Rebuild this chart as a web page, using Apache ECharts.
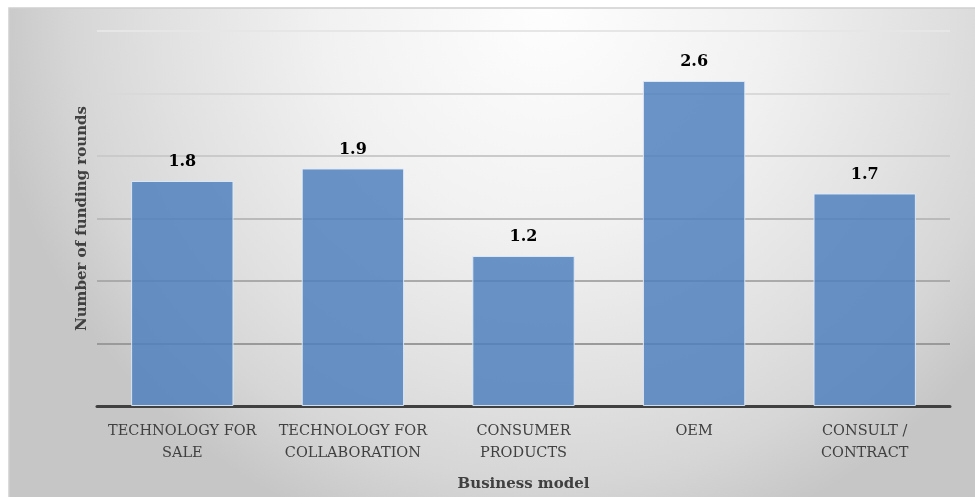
<!DOCTYPE html>
<html>
<head>
<meta charset="utf-8">
<script src="https://cdn.jsdelivr.net/npm/echarts@6/dist/echarts.min.js"></script>
<style>
  html, body { margin: 0; padding: 0; background: #ffffff; }
  #chart { width: 975px; height: 497px; }
</style>
</head>
<body>
<div id="chart"></div>
<script>
// Business models and their average number of funding rounds
const categories = [
  'TECHNOLOGY FOR\nSALE',
  'TECHNOLOGY FOR\nCOLLABORATION',
  'CONSUMER\nPRODUCTS',
  'OEM',
  'CONSULT /\nCONTRACT'
];
const fundingRounds = [1.8, 1.9, 1.2, 2.6, 1.7];

const xAxisTitle = 'Business model';
const yAxisTitle = 'Number of funding rounds';

const serif = '"DejaVu Serif", "Liberation Serif", serif';

// Gridlines fade from darker at the bottom to very light at the top
const gridShades = ['#909090', '#9a9a9a', '#aaaaaa', '#bababa', '#cacaca', '#d9d9d9', '#e6e6e6'];

const chart = echarts.init(document.getElementById('chart'));

chart.setOption({
  animation: false,
  backgroundColor: '#ffffff',
  graphic: [{
    type: 'rect',
    z: -100,
    silent: true,
    shape: { x: 9, y: 8, width: 975, height: 497 },
    style: {
      fill: {
        type: 'radial', x: 0.55, y: 0.0, r: 1.12,
        colorStops: [
          { offset: 0, color: '#fefefe' },
          { offset: 0.4, color: '#f1f1f1' },
          { offset: 0.7, color: '#e0e0e0' },
          { offset: 0.85, color: '#d6d6d6' },
          { offset: 1, color: '#c6c6c6' }
        ]
      },
      stroke: '#d0d0d0',
      lineWidth: 1.5
    }
  }],
  grid: { left: 97, right: 25, top: 31, bottom: 91, containLabel: false },
  xAxis: {
    type: 'category',
    data: categories,
    name: xAxisTitle,
    nameLocation: 'middle',
    nameGap: 71,
    nameTextStyle: { fontFamily: serif, fontSize: 15, fontWeight: 'bold', color: '#404040' },
    axisLine: { show: true, lineStyle: { color: '#404040', width: 3 } },
    axisTick: { show: false },
    axisLabel: {
      fontFamily: serif, fontSize: 14.5, color: '#404040',
      lineHeight: 22, margin: 14, interval: 0
    }
  },
  yAxis: {
    type: 'value',
    min: 0, max: 3, interval: 0.5,
    name: yAxisTitle,
    nameLocation: 'middle',
    nameGap: 7,
    nameTextStyle: { fontFamily: serif, fontSize: 15, fontWeight: 'bold', color: '#404040' },
    axisLine: { show: false },
    axisTick: { show: false },
    axisLabel: { show: false },
    splitLine: { lineStyle: { color: gridShades, width: 2 } }
  },
  series: [{
    type: 'bar',
    data: fundingRounds,
    barWidth: '60%',
    itemStyle: {
      color: 'rgba(79,129,189,0.84)',
      borderColor: 'rgba(225,235,248,0.9)',
      borderWidth: 1
    },
    label: {
      show: true,
      position: 'top',
      distance: 11,
      fontFamily: serif,
      fontSize: 16,
      fontWeight: 'bold',
      color: '#000000',
      formatter: p => p.value.toFixed(1)
    }
  }]
});
</script>
</body>
</html>
